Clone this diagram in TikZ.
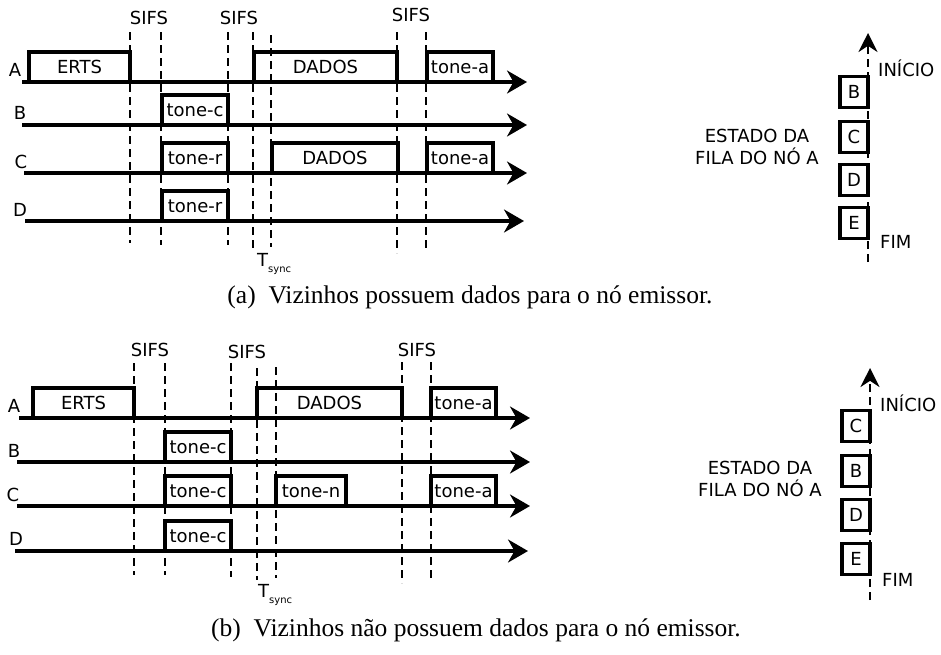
\documentclass[tikz,border=0pt]{standalone}
\usepackage{fontspec}
\setmainfont{Liberation Serif}
\newfontfamily\diagfont{DejaVu Sans}
\usetikzlibrary{arrows.meta}

\begin{document}
\begin{tikzpicture}[x=1pt, y=-1pt,
    lbl/.style={font=\diagfont\fontsize{18}{22}\selectfont, inner sep=0pt},
    pulse/.style={lbl, rectangle, draw, line width=3.2pt, anchor=south west, outer sep=0pt, minimum height=30pt},
    slot/.style={lbl, rectangle, draw, line width=3.2pt, outer sep=0pt, minimum width=28pt, minimum height=31pt},
    timeline/.style={line width=3.2pt, -{Stealth[length=20pt, width=23pt]}},
    guide/.style={line width=2.5pt, dash pattern=on 8pt off 5pt},
    queue/.style={line width=2.5pt, dash pattern=on 8pt off 5pt, -{Stealth[length=19pt, width=19pt]}},
    caption/.style={font=\fontsize{25.5}{30}\selectfont, inner sep=0pt}
]
    \useasboundingbox (0,0) rectangle (941,654);

    % ---------- (a) ----------
    \foreach \gx/\ga/\gb in {130/32/243, 161/32/245, 228/32/245, 253/32/248, 271/35/247, 397/32/253, 426/32/250}
        \draw[guide] (\gx,\ga) -- (\gx,\gb);
    \node[lbl] (sifsa1) at (149,18) {SIFS};
    \node[lbl] (sifsa2) at (239,18) {SIFS};
    \node[lbl] (sifsa3) at (411,15) {SIFS};
    \node[lbl, anchor=west] (tsynca) at (257,264) {T\raisebox{-0.6ex}{\fontsize{10}{10}\selectfont sync}};

    \node[lbl] (la) at (15,70) {A};
    \node[lbl] (lb) at (20,113) {B};
    \node[lbl] (lc) at (21,162) {C};
    \node[lbl] (ld) at (20,210) {D};
    \coordinate (a0) at (22,82);  \coordinate (a1) at (527,82);
    \coordinate (b0) at (22,125); \coordinate (b1) at (527,125);
    \coordinate (c0) at (24,173); \coordinate (c1) at (527,173);
    \coordinate (d0) at (25,221); \coordinate (d1) at (524,221);
    \draw[timeline] (a0) -- (a1);
    \draw[timeline] (b0) -- (b1);
    \draw[timeline] (c0) -- (c1);
    \draw[timeline] (d0) -- (d1);

    \node[pulse, minimum width=101pt] (ertsa) at (29,82) {ERTS};
    \node[pulse, minimum width=143pt] (dadosa) at (254,82) {DADOS};
    \node[pulse, minimum width=66pt] (tonea1) at (427,82) {tone-a};
    \node[pulse, minimum width=66pt] (tonecb) at (162,125) {tone-c};
    \node[pulse, minimum width=66pt] (tonerc) at (162,173) {tone-r};
    \node[pulse, minimum width=126pt] (dadosc) at (272,173) {DADOS};
    \node[pulse, minimum width=66pt] (tonea2) at (427,173) {tone-a};
    \node[pulse, minimum width=66pt] (tonerd) at (162,221) {tone-r};

    \node[lbl, align=center] (filaa) at (757,147) {ESTADO DA\\FILA DO NÓ A};
    \node[slot] (qa1) at (854,92) {B};
    \node[slot] (qa2) at (854,137) {C};
    \node[slot] (qa3) at (854,180) {D};
    \node[slot] (qa4) at (854,223) {E};
    \coordinate (qa0) at (868,262); \coordinate (qat) at (868,33);
    \draw[queue] (qa0) -- (qat);
    \node[lbl, anchor=west] (inia) at (878,68) {INÍCIO};
    \node[lbl, anchor=west] (fima) at (880,242) {FIM};

    \node[caption] (capa) at (470,297) {(a)\ \ Vizinhos possuem dados para o nó emissor.};

    % ---------- (b) ----------
    \foreach \gx/\ga/\gb in {134/363/575, 165/363/575, 231/363/577, 257/368/580, 276/367/578, 402/362/583, 431/362/582}
        \draw[guide] (\gx,\ga) -- (\gx,\gb);
    \node[lbl] (sifsb1) at (150,350) {SIFS};
    \node[lbl] (sifsb2) at (247,352) {SIFS};
    \node[lbl] (sifsb3) at (417,350) {SIFS};
    \node[lbl, anchor=west] (tsyncb) at (258,595) {T\raisebox{-0.6ex}{\fontsize{10}{10}\selectfont sync}};

    \node[lbl] (ma) at (14,406) {A};
    \node[lbl] (mb) at (14,451) {B};
    \node[lbl] (mc) at (13,495) {C};
    \node[lbl] (md) at (16,539) {D};
    \coordinate (e0) at (19,418); \coordinate (e1) at (530,418);
    \coordinate (f0) at (17,462); \coordinate (f1) at (530,462);
    \coordinate (g0) at (17,506); \coordinate (g1) at (530,506);
    \coordinate (h0) at (15,551); \coordinate (h1) at (528,551);
    \draw[timeline] (e0) -- (e1);
    \draw[timeline] (f0) -- (f1);
    \draw[timeline] (g0) -- (g1);
    \draw[timeline] (h0) -- (h1);

    \node[pulse, minimum width=101pt] (ertsb) at (33,418) {ERTS};
    \node[pulse, minimum width=145pt] (dadosb) at (257,418) {DADOS};
    \node[pulse, minimum width=65pt] (tonea3) at (431,418) {tone-a};
    \node[pulse, minimum width=66pt] (tonec1) at (165,462) {tone-c};
    \node[pulse, minimum width=66pt] (tonec2) at (165,506) {tone-c};
    \node[pulse, minimum width=70pt] (tonen) at (276,506) {tone-n};
    \node[pulse, minimum width=65pt] (tonea4) at (431,506) {tone-a};
    \node[pulse, minimum width=66pt] (tonec3) at (165,551) {tone-c};

    \node[lbl, align=center] (filab) at (760,479) {ESTADO DA\\FILA DO NÓ A};
    \node[slot] (qb1) at (856,426) {C};
    \node[slot] (qb2) at (856,471) {B};
    \node[slot] (qb3) at (856,515) {D};
    \node[slot] (qb4) at (856,559) {E};
    \coordinate (qb0) at (870,600); \coordinate (qbt) at (870,368);
    \draw[queue] (qb0) -- (qbt);
    \node[lbl, anchor=west] (inib) at (880,403) {INÍCIO};
    \node[lbl, anchor=west] (fimb) at (882,580) {FIM};

    \node[caption] (capb) at (476,630) {(b)\ \ Vizinhos não possuem dados para o nó emissor.};
\end{tikzpicture}
\end{document}
